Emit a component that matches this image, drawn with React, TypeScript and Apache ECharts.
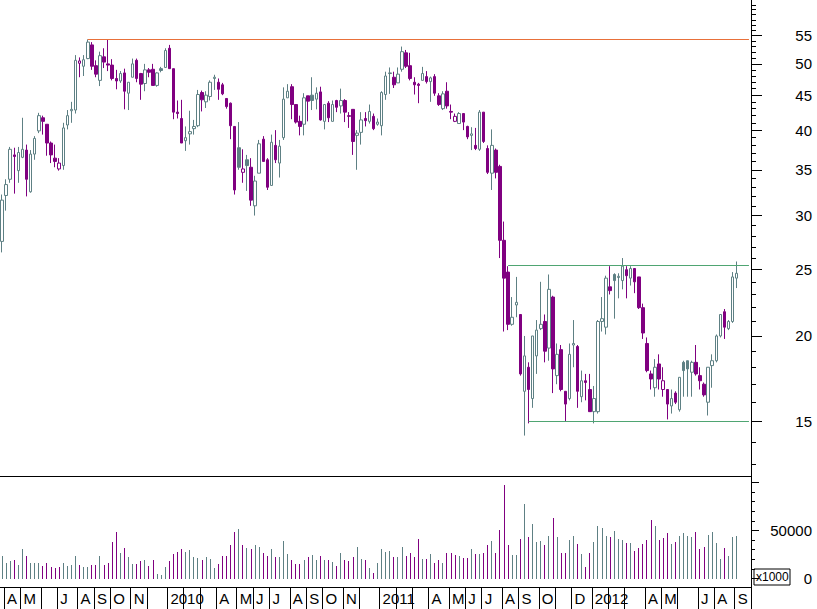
import React, { useEffect, useRef } from 'react';
import * as echarts from 'echarts';

// ---- data ----
const START_YEAR = 2009;
const START_MONTH = 2; // March (0-based)
const START_DAY = 27; // first weekly bar (Friday)
const EXTRA_WEEKS = 3;

const OPEN = [
  27.5, 32.1, 33.9, 36.8, 34.9, 36.5, 37.4, 32.5, 36.9, 39.9,
  41.7, 40.8, 38.3, 36.4, 35.1, 35.5, 40.7, 42.7, 42.8, 50.1,
  49.6, 50.9, 53.3, 49.7, 47.3, 51.2, 50.0, 49.8, 47.6, 47.2,
  48.5, 45.3, 47.8, 50.6, 48.4, 46.8, 49.0, 49.1, 46.5, 49.2,
  49.4, 52.7, 49.2, 42.5, 41.6, 38.6, 39.5, 40.2, 40.6, 45.4,
  44.0, 44.8, 47.6, 47.0, 46.6, 44.5, 43.8, 40.5, 37.7, 34.7,
  36.2, 35.3, 31.0, 34.6, 38.8, 36.2, 33.2, 38.0, 35.8, 39.0,
  44.6, 46.3, 43.6, 41.2, 40.8, 44.9, 45.0, 44.4, 45.5, 41.2,
  43.8, 41.2, 44.2, 43.4, 44.2, 42.0, 42.9, 39.3, 39.7, 41.6,
  41.2, 41.9, 40.8, 40.6, 45.1, 48.4, 47.8, 46.9, 49.1, 51.9,
  49.7, 47.0, 46.7, 47.3, 47.9, 47.1, 47.9, 44.9, 43.0, 45.6,
  42.6, 41.2, 40.9, 42.3, 40.5, 39.3, 38.0, 37.5, 42.5, 37.6,
  34.6, 37.4, 35.4, 27.6, 24.8, 20.8, 22.2, 21.5, 16.6, 18.0,
  16.2, 18.7, 20.5, 21.0, 19.2, 22.8, 17.5, 19.1, 16.6, 16.2,
  19.4, 19.3, 16.3, 17.2, 16.7, 15.5, 15.5, 21.0, 20.6, 23.6,
  24.6, 24.35, 24.1, 25.0, 24.3, 25.1, 24.4, 22.0, 19.5, 17.6,
  16.8, 18.2, 16.7, 16.7, 15.8, 16.5, 15.6, 18.3, 18.4, 17.7,
  18.3, 17.5, 17.0, 16.0, 18.1, 18.4, 20.0, 21.7, 20.5, 21.0,
  24.3,
];

const CLOSE = [
  31.6, 33.3, 37.5, 36.6, 37.1, 37.5, 33.9, 36.9, 38.9, 42.0,
  41.2, 38.3, 36.8, 36.0, 35.8, 40.3, 42.0, 42.9, 50.6, 50.5,
  50.7, 53.8, 49.6, 48.3, 51.4, 50.3, 49.8, 47.6, 47.2, 48.4,
  45.6, 47.0, 50.0, 47.6, 46.7, 49.0, 48.6, 46.5, 48.5, 48.9,
  52.3, 49.2, 42.5, 42.3, 38.3, 39.0, 39.8, 40.5, 45.1, 44.3,
  45.0, 47.0, 47.8, 45.9, 45.2, 43.3, 40.6, 32.7, 35.3, 35.1,
  35.5, 31.6, 33.7, 38.2, 36.0, 33.0, 38.4, 36.2, 37.9, 44.4,
  45.6, 43.6, 41.1, 40.5, 44.6, 44.1, 44.2, 45.3, 41.4, 43.6,
  41.7, 43.6, 43.2, 44.2, 42.5, 41.9, 38.5, 39.6, 41.4, 41.3,
  42.6, 40.2, 41.1, 45.4, 48.0, 48.5, 46.6, 48.3, 52.1, 49.6,
  47.6, 46.6, 46.5, 48.4, 47.1, 47.7, 45.3, 43.6, 45.2, 43.4,
  42.5, 41.9, 42.3, 41.1, 39.1, 39.5, 37.6, 42.5, 38.5, 34.7,
  38.0, 34.7, 27.6, 24.3, 20.8, 21.3, 22.4, 17.6, 18.7, 16.7,
  20.0, 20.4, 20.8, 19.0, 23.4, 17.9, 18.8, 16.7, 15.9, 18.8,
  19.5, 16.6, 17.2, 17.1, 15.5, 16.2, 21.0, 21.2, 24.3, 23.3,
  24.1, 24.45, 25.3, 24.5, 25.1, 24.0, 22.0, 20.2, 17.8, 17.3,
  18.0, 17.3, 17.2, 15.9, 16.2, 16.0, 17.4, 17.8, 17.9, 18.3,
  17.6, 17.2, 16.4, 18.0, 18.4, 20.0, 21.5, 20.6, 21.0, 24.4,
  24.7,
];

const HIGH = [
  32.2, 33.9, 37.8, 37.7, 37.8, 41.7, 38.1, 37.4, 39.2, 42.4,
  42.0, 40.8, 38.5, 38.1, 36.4, 41.0, 42.8, 44.0, 51.5, 51.1,
  51.5, 54.3, 53.8, 50.6, 52.1, 52.7, 54.2, 50.8, 49.0, 48.8,
  49.2, 47.0, 50.9, 50.9, 48.5, 50.0, 49.3, 50.0, 48.6, 49.5,
  52.7, 53.3, 49.2, 44.2, 44.3, 40.5, 42.7, 41.4, 45.8, 45.7,
  45.6, 47.3, 48.2, 47.6, 46.9, 44.5, 43.9, 40.5, 41.1, 37.5,
  36.8, 36.4, 34.3, 38.7, 39.2, 36.4, 39.4, 40.0, 38.7, 46.2,
  46.7, 46.7, 43.6, 42.0, 45.3, 44.9, 47.8, 46.2, 46.3, 43.6,
  44.1, 44.2, 44.3, 46.0, 44.4, 42.5, 42.9, 40.0, 42.5, 42.5,
  43.6, 42.3, 41.6, 45.6, 48.7, 49.4, 48.7, 49.4, 53.0, 52.4,
  51.9, 47.8, 46.9, 49.5, 48.8, 47.9, 48.3, 45.3, 45.6, 47.0,
  43.6, 42.3, 42.5, 42.3, 40.6, 40.4, 40.3, 42.8, 42.5, 38.0,
  40.1, 37.6, 35.6, 29.4, 25.3, 22.8, 24.4, 21.5, 20.0, 18.3,
  20.0, 21.1, 24.0, 21.5, 24.6, 22.9, 19.5, 19.4, 16.6, 19.5,
  21.1, 19.4, 17.8, 17.6, 17.6, 16.9, 21.1, 22.8, 24.5, 25.3,
  24.7, 24.7, 26.0, 25.3, 25.3, 25.1, 24.4, 22.3, 19.9, 17.8,
  18.5, 18.8, 18.0, 16.7, 16.7, 16.6, 17.4, 18.4, 18.4, 18.4,
  19.4, 18.0, 17.1, 18.0, 18.8, 20.1, 21.5, 21.9, 21.1, 24.8,
  25.7,
];

const LOW = [
  26.5, 30.5, 33.5, 32.3, 33.5, 36.4, 32.0, 32.4, 36.2, 39.6,
  39.4, 36.7, 35.8, 35.3, 34.9, 35.0, 40.1, 41.0, 42.3, 47.8,
  48.0, 50.8, 49.0, 47.8, 46.4, 49.3, 48.8, 47.3, 45.9, 46.9,
  42.9, 42.8, 47.8, 47.0, 44.3, 45.6, 47.8, 46.5, 46.3, 48.6,
  49.4, 49.2, 41.5, 41.6, 38.3, 37.3, 38.1, 39.4, 40.4, 42.6,
  43.1, 44.2, 45.8, 44.3, 45.0, 43.0, 38.8, 32.2, 35.0, 33.5,
  32.6, 31.0, 30.0, 34.6, 36.0, 32.7, 33.2, 35.8, 34.1, 38.7,
  44.6, 41.5, 40.9, 39.3, 39.3, 41.2, 42.8, 42.9, 41.3, 40.1,
  41.1, 41.2, 42.5, 42.3, 41.1, 40.3, 36.8, 35.0, 38.1, 40.5,
  40.9, 40.0, 40.6, 39.3, 44.3, 45.2, 46.1, 46.9, 48.7, 49.3,
  47.3, 45.1, 43.8, 47.3, 46.8, 44.0, 44.9, 43.4, 42.8, 43.0,
  41.5, 41.1, 40.9, 40.0, 38.8, 37.4, 37.4, 37.3, 38.3, 34.5,
  32.7, 34.0, 26.0, 20.3, 20.4, 20.7, 21.3, 17.5, 14.3, 14.9,
  15.7, 17.6, 20.4, 18.3, 18.4, 16.5, 17.0, 16.6, 15.0, 16.1,
  18.0, 15.7, 16.0, 16.1, 15.5, 14.9, 15.4, 20.3, 20.1, 23.0,
  21.2, 22.7, 23.4, 22.7, 23.7, 23.1, 21.9, 19.8, 17.7, 16.7,
  16.3, 16.7, 16.3, 15.1, 15.4, 15.9, 15.5, 16.3, 16.3, 16.3,
  17.5, 16.7, 16.3, 15.3, 16.8, 18.3, 19.9, 19.8, 20.4, 20.9,
  23.5,
];

// volume in thousands (axis reads "x1000")
const VOLUME = [
  23400, 15800, 18600, 19300, 14100, 30700, 23400, 15800, 15800, 15800,
  13000, 15800, 11600, 11300, 11600, 15800, 13000, 14100, 23400, 14100,
  11600, 12300, 14100, 14100, 23400, 14100, 15800, 38400, 48400, 26200,
  32100, 22000, 15100, 15100, 18600, 19300, 13000, 19300, 4700, 3600,
  11600, 18600, 25500, 27600, 30400, 27900, 29700, 22000, 21000, 19300,
  22000, 20000, 10900, 14800, 23400, 23400, 34900, 48400, 51200, 34900,
  31800, 30700, 34900, 33200, 26200, 23400, 30400, 22000, 22000, 39100,
  25500, 19300, 15100, 15100, 19300, 22000, 24100, 19300, 23400, 19300,
  19300, 17200, 13000, 26200, 19300, 18600, 22000, 32500, 20000, 19300,
  10600, 5400, 15800, 30700, 27600, 29000, 22000, 22700, 32500, 23400,
  26200, 22000, 41100, 20000, 20000, 25500, 15800, 19300, 15800, 26200,
  26200, 24100, 23400, 21000, 21000, 30700, 25500, 25500, 26200, 34900,
  39100, 26200, 50500, 97400, 34900, 24500, 24500, 41100, 77600, 43600,
  56800, 38400, 39100, 34900, 44300, 62700, 43600, 26200, 26200, 40100,
  44300, 35900, 25500, 12300, 26200, 38400, 54700, 52700, 44300, 42900,
  49500, 40800, 40100, 37300, 37300, 28600, 31400, 35900, 40100, 61000,
  54700, 40100, 42200, 47700, 35900, 38000, 44300, 47700, 44300, 43600,
  48400, 30700, 33200, 45300, 48400, 37300, 20300, 31800, 23400, 43600,
  44300,
];

// labels shown at each month start, in order from Apr 2009 to Sep 2012
const MONTH_LABELS = [
  'A', 'M', '', 'J', 'A', 'S', 'O', 'N', '',
  '2010', '', '', 'A', 'M', 'J', 'J', 'A', 'S', 'O', 'N', '',
  '2011', '', '', 'A', 'M', 'J', 'J', 'A', 'S', 'O', '', 'D',
  '2012', '', '', 'A', 'M', '', 'J', 'A', 'S',
];

const PRICE_LABELS = [15, 20, 25, 30, 35, 40, 45, 50, 55];
const PRICE_MINOR_TICKS = [
  13, 14, 15, 16, 17, 18, 19, 20, 21, 22, 23, 24, 25, 26, 27, 28, 29, 30,
  31, 32, 33, 34, 35, 36, 37, 38, 39, 40, 41, 42, 43, 44, 45, 46, 47, 48,
  49, 50, 51, 52, 53, 54, 55, 56, 57, 58, 59, 60, 61,
];
const PRICE_MIN = 12.48;
const PRICE_MAX = 62.0;

const VOLUME_LABELS = [0, 50000];
const VOLUME_MAJOR_TICKS = [0, 50000, 100000];
const VOLUME_MINOR_TICKS = [0, 10000, 20000, 30000, 40000, 50000, 60000, 70000, 80000, 90000, 100000];
const VOLUME_MIN = -8850;
const VOLUME_MAX = 106800;

// horizontal support / resistance levels
const LEVEL_VALUES = [54.3, 25.4, 15.0];
const LEVEL_START_INDEX = [21, 124, 129];

// ---- styles ----
const GRAY = '#5E8084';
const PURPLE = '#800080';
const LEVEL_COLORS = ['#E8703A', '#4FA572', '#4FA572'];
const FONT = '"Liberation Sans", Arial, Helvetica, sans-serif';

function buildDates(n: number): string[] {
  const base = Date.UTC(START_YEAR, START_MONTH, START_DAY);
  const out: string[] = [];
  for (let i = 0; i < n; i++) {
    let d = new Date(base + i * 7 * 86400000);
    if (d.getUTCMonth() === 0 && d.getUTCDate() === 1) {
      d = new Date(d.getTime() - 86400000); // New Year holiday
    }
    out.push(d.toISOString().slice(0, 10));
  }
  return out;
}

export default function App() {
  const ref = useRef<HTMLDivElement>(null);

  useEffect(() => {
    document.body.style.margin = '0';
    if (!ref.current) return;
    const chart = echarts.init(ref.current, undefined, { renderer: 'svg' });

    const n = OPEN.length;
    const dates = buildDates(n + EXTRA_WEEKS);
    const labelMap = new Map<number, string>();
    let k = 0;
    for (let i = 1; i < dates.length; i++) {
      if (dates[i].slice(0, 7) !== dates[i - 1].slice(0, 7)) {
        labelMap.set(i, MONTH_LABELS[k] ?? '');
        k++;
      }
    }

    const strokes: string[] = [];
    const candleData = OPEN.map((o, i) => {
      const c = CLOSE[i];
      const prev = i > 0 ? CLOSE[i - 1] : o;
      const stroke = c >= prev ? GRAY : PURPLE;
      strokes.push(stroke);
      const fill = c > o ? '#ffffff' : stroke;
      return {
        value: [o, c, LOW[i], HIGH[i]],
        itemStyle: {
          color: fill,
          color0: fill,
          borderColor: stroke,
          borderColor0: stroke,
          borderColorDoji: stroke,
          borderWidth: 1,
        },
      };
    });

    const volData = VOLUME.map((v, i) => [i, v]);

    const lastCat = dates[dates.length - 1];
    const levelLines = LEVEL_VALUES.map((v, j) => [
      { coord: [dates[LEVEL_START_INDEX[j]], v], lineStyle: { color: LEVEL_COLORS[j], width: 1, type: 'solid' } },
      { coord: [lastCat, v] },
    ]);

    const labelText = { fontFamily: FONT, fontSize: 15, color: '#000' };

    const option: any = {
      animation: false,
      backgroundColor: '#ffffff',
      grid: [
        { left: 0, top: 0, width: 751, height: 476 },
        { left: 0, top: 476, width: 751, height: 111 },
      ],
      xAxis: [
        {
          type: 'category',
          gridIndex: 0,
          data: dates,
          boundaryGap: true,
          axisLine: { show: true, onZero: false, lineStyle: { color: '#000', width: 1 } },
          axisTick: { show: false },
          axisLabel: { show: false },
          splitLine: { show: false },
        },
        {
          type: 'category',
          gridIndex: 1,
          data: dates,
          boundaryGap: true,
          axisLine: { show: true, onZero: false, lineStyle: { color: '#000', width: 1 } },
          axisTick: {
            show: true,
            interval: (i: number) => labelMap.has(i),
            length: 22,
            lineStyle: { color: '#000', width: 1 },
          },
          axisLabel: {
            show: true,
            interval: (i: number) => labelMap.has(i),
            formatter: (_v: string, i: number) => labelMap.get(i) ?? '',
            align: 'left',
            margin: 4,
            padding: [0, 0, 0, 1],
            ...labelText,
          },
          splitLine: { show: false },
        },
      ],
      yAxis: [
        {
          type: 'log',
          gridIndex: 0,
          position: 'right',
          min: PRICE_MIN,
          max: PRICE_MAX,
          axisLine: { show: true, lineStyle: { color: '#000', width: 1 } },
          axisTick: { show: true, length: 5, customValues: PRICE_MINOR_TICKS, lineStyle: { color: '#000' } },
          axisLabel: { show: false },
          splitLine: { show: false },
        },
        {
          type: 'log',
          gridIndex: 0,
          position: 'right',
          min: PRICE_MIN,
          max: PRICE_MAX,
          axisLine: { show: false },
          axisTick: { show: true, length: 11, customValues: PRICE_LABELS, lineStyle: { color: '#000' } },
          axisLabel: {
            show: true,
            customValues: PRICE_LABELS,
            formatter: (v: number) => String(Math.round(v)),
            margin: 61,
            align: 'right',
            ...labelText,
          },
          splitLine: { show: false },
        },
        {
          type: 'value',
          gridIndex: 1,
          position: 'right',
          min: VOLUME_MIN,
          max: VOLUME_MAX,
          axisLine: { show: true, onZero: false, lineStyle: { color: '#000', width: 1 } },
          axisTick: { show: true, length: 4, customValues: VOLUME_MINOR_TICKS, lineStyle: { color: '#000' } },
          axisLabel: { show: false },
          splitLine: { show: false },
        },
        {
          type: 'value',
          gridIndex: 1,
          position: 'right',
          min: VOLUME_MIN,
          max: VOLUME_MAX,
          axisLine: { show: false },
          axisTick: { show: true, length: 8, customValues: VOLUME_MAJOR_TICKS, lineStyle: { color: '#000' } },
          axisLabel: {
            show: true,
            customValues: VOLUME_LABELS,
            formatter: (v: number) => String(v),
            margin: 61,
            align: 'right',
            ...labelText,
          },
          splitLine: { show: false },
        },
      ],
      series: [
        {
          type: 'candlestick',
          xAxisIndex: 0,
          yAxisIndex: 0,
          barWidth: 3,
          data: candleData,
          markLine: {
            silent: true,
            symbol: ['none', 'none'],
            label: { show: false },
            lineStyle: { type: 'solid', width: 1 },
            data: levelLines,
          },
        },
        {
          type: 'custom',
          xAxisIndex: 1,
          yAxisIndex: 2,
          data: volData,
          encode: { x: 0, y: 1 },
          renderItem: (params: any, api: any) => {
            const idx = api.value(0);
            const top = api.coord([idx, api.value(1)]);
            const base = api.coord([idx, 0]);
            const x = Math.floor(top[0]);
            const y0 = Math.round(top[1]);
            const y1 = Math.round(base[1]);
            return {
              type: 'rect',
              shape: { x, y: y0, width: 1, height: y1 - y0 },
              style: { fill: strokes[params.dataIndex] },
            };
          },
        },
      ],
      graphic: [
        {
          type: 'group',
          z: 100,
          children: [
            {
              type: 'rect',
              shape: { x: 754, y: 569, width: 36, height: 16 },
              style: { fill: '#ffffff', stroke: '#000', lineWidth: 1 },
            },
            {
              type: 'text',
              x: 756,
              y: 571,
              style: { text: 'x1000', fontSize: 12, fontFamily: FONT, fill: '#000' },
            },
          ],
        },
      ],
    };

    chart.setOption(option);
    return () => chart.dispose();
  }, []);

  return (
    <div
      ref={ref}
      style={{ position: 'absolute', left: 0, top: 0, width: 817, height: 609 }}
    />
  );
}
